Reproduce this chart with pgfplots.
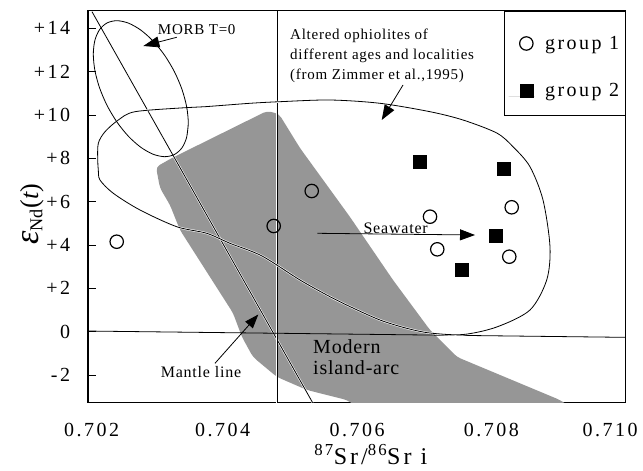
\documentclass[border=0pt]{standalone}
\usepackage{fontspec}
\setmainfont{Liberation Serif}
\newfontfamily\tickfont[LetterSpace=12.5]{Liberation Serif}
\newfontfamily\annfont[LetterSpace=5]{Liberation Serif}
\newfontfamily\arcfont[LetterSpace=4]{Liberation Serif}
\usepackage{pgfplots}
\pgfplotsset{compat=1.18}
\usetikzlibrary{arrows.meta}
\definecolor{arcgray}{RGB}{150,150,150}
\begin{document}
\begin{tikzpicture}
\useasboundingbox (0,0) rectangle (643bp,471bp);
\begin{axis}[
  at={(88.3bp,68.3bp)}, anchor=south west,
  width=537.4bp, height=392bp, scale only axis,
  xmin=0.702, xmax=0.710, ymin=-3.276, ymax=14.813,
  axis line style={line width=1.6bp},
  xtick={0.702,0.704,0.706,0.708,0.710},
  xticklabels={\makebox[0pt]{\hspace*{6.8bp}0.702},0.704,0.706,0.708,\makebox[0pt]{0.710\hspace*{31.4bp}}},
  xtick style={draw=none},
  ytick={-2,0,2,4,6,8,10,12,14},
  yticklabels={-2,0,+2,+4,+6,+8,+10,+12,+14},
  ytick pos=left, xtick pos=bottom, tick align=inside,
  major tick length=8bp,
  ytick style={line width=0.8bp, black},
  yticklabel style={font=\tickfont\fontsize{20bp}{24bp}\selectfont, inner sep=0pt, anchor=east, xshift=-18bp},
  xticklabel style={font=\tickfont\fontsize{20bp}{24bp}\selectfont, inner sep=0pt, anchor=north, yshift=-20bp},
  xlabel={\textsuperscript{87}Sr/\textsuperscript{86}Sr i},
  xlabel style={font=\tickfont\fontsize{24bp}{28bp}\selectfont, at={(rel axis cs:0.5257,-0.1334)}, anchor=center},
  ylabel={{\fontsize{34bp}{36bp}\selectfont\itshape ε}\textsubscript{Nd}(\textit{t})},
  ylabel style={font=\fontsize{26bp}{30bp}\selectfont, at={(rel axis cs:-0.1048,0.4814)}, anchor=center},
  legend style={at={(1,1)}, anchor=north east, draw=black, line width=1bp, fill=white,
    inner xsep=4bp, inner ysep=16bp, row sep=21.6bp, column sep=8.4bp,
    font=\tickfont\fontsize{20bp}{24bp}\selectfont,
    cells={anchor=base west, inner sep=0bp, text height=20bp, text depth=0bp}},
  legend image code/.code={\path[draw=none] (0bp,0bp) -- (26bp,0bp); \draw plot coordinates {(17.7bp,5.7bp)};},
]
% Modern island-arc field
\addplot[fill=arcgray, draw=none, rounded corners=4bp, forget plot] coordinates {
(0.703008,7.600) (0.703246,8.016) (0.704660,10.185) (0.704839,10.046) (0.705151,8.477)
(0.705896,5.293) (0.706536,2.386) (0.707087,0.078) (0.707489,-1.168) (0.709022,-3.152)
(0.709245,-3.613) (0.706074,-3.613) (0.705851,-3.152) (0.705256,-2.690) (0.704809,-2.090)
(0.704452,-1.168) (0.704288,-0.245) (0.704154,0.863) (0.703365,4.693) (0.703216,5.847)
(0.703067,6.631)} -- cycle;
% reference lines
\addplot[white, line width=2bp, forget plot] coordinates {(0.702055,14.767) (0.705340,-3.276)};
\addplot[black, line width=0.8bp, forget plot] coordinates {(0.702055,14.767) (0.705340,-3.276)};
\addplot[white, line width=2bp, forget plot] coordinates {(0.70481,-3.276) (0.70481,14.813)};
\addplot[black, line width=0.8bp, forget plot] coordinates {(0.70481,-3.276) (0.70481,14.813)};
\addplot[black, line width=0.8bp, forget plot] coordinates {(0.702,0.03) (0.710,-0.26)};
% altered ophiolites field
\addplot[white, line width=2bp, smooth, tension=0.5, forget plot] coordinates {
(0.702149,7.462) (0.702140,7.923) (0.702149,8.694) (0.702249,9.229) (0.702447,9.769)
(0.702695,10.152) (0.703440,10.337) (0.703737,10.383) (0.704407,10.540) (0.704854,10.614)
(0.705598,10.692) (0.706342,10.540) (0.707087,10.152) (0.707578,9.769) (0.708080,9.169)
(0.708322,8.537) (0.708575,7.614) (0.708769,6.078) (0.708873,3.922) (0.708824,2.386)
(0.708575,1.001) (0.708080,0.217) (0.707578,-0.13) (0.707087,-0.06) (0.706740,0.157)
(0.706342,0.540) (0.705940,1.094) (0.705598,1.615) (0.705151,2.386) (0.704586,3.493)
(0.704109,4.079) (0.703763,4.541) (0.703316,4.845) (0.702770,5.616) (0.702372,6.387)
(0.702174,7.000) (0.702149,7.462) (0.702140,7.923)};
\addplot[black, line width=0.8bp, smooth, tension=0.5, forget plot] coordinates {
(0.702149,7.462) (0.702140,7.923) (0.702149,8.694) (0.702249,9.229) (0.702447,9.769)
(0.702695,10.152) (0.703440,10.337) (0.703737,10.383) (0.704407,10.540) (0.704854,10.614)
(0.705598,10.692) (0.706342,10.540) (0.707087,10.152) (0.707578,9.769) (0.708080,9.169)
(0.708322,8.537) (0.708575,7.614) (0.708769,6.078) (0.708873,3.922) (0.708824,2.386)
(0.708575,1.001) (0.708080,0.217) (0.707578,-0.13) (0.707087,-0.06) (0.706740,0.157)
(0.706342,0.540) (0.705940,1.094) (0.705598,1.615) (0.705151,2.386) (0.704586,3.493)
(0.704109,4.079) (0.703763,4.541) (0.703316,4.845) (0.702770,5.616) (0.702372,6.387)
(0.702174,7.000) (0.702149,7.462) (0.702140,7.923)};
% MORB ellipse
\addplot[black, line width=0.8bp, smooth, forget plot] coordinates {
(0.7034887,9.622) (0.7034645,8.976) (0.703394,8.483) (0.7032816,8.176) (0.7031351,8.076)
(0.7029645,8.190) (0.7027815,8.510) (0.7025986,9.014) (0.702428,9.668) (0.7022815,10.427)
(0.7021691,11.241) (0.7020985,12.051) (0.7020744,12.806) (0.7020985,13.451) (0.7021691,13.945)
(0.7022815,14.252) (0.702428,14.352) (0.7025986,14.238) (0.7027815,13.918) (0.7029645,13.413)
(0.7031351,12.760) (0.7032816,12.000) (0.703394,11.187) (0.7034645,10.376) (0.7034887,9.622)
(0.7034645,8.976)};
% arrows
\addplot[black, line width=0.8bp, -{Triangle[length=15bp,width=11bp]}, forget plot] coordinates {(0.705409,4.541) (0.707757,4.462)};
\addplot[black, line width=0.8bp, -{Triangle[length=16bp,width=11bp]}, forget plot] coordinates {(0.703316,13.586) (0.702819,13.184)};
\addplot[black, line width=0.8bp, -{Triangle[length=15bp,width=11bp]}, forget plot] coordinates {(0.706685,11.384) (0.706368,9.769)};
\addplot[black, line width=0.8bp, -{Triangle[length=14bp,width=10bp]}, forget plot] coordinates {(0.703886,-1.458) (0.704531,0.794)};
% samples
\addplot[only marks, mark=o, mark size=6.7bp, line width=1.2bp, black] coordinates {
(0.702423,4.153) (0.704760,4.878) (0.705326,6.493) (0.707087,5.307) (0.707195,3.802)
(0.708303,5.741) (0.708267,3.461)};
\addlegendentry{group 1}
\addplot[only marks, mark=square*, mark size=6.5bp, line width=0.4bp, black, fill=black] coordinates {
(0.706938,7.863) (0.708178,7.540) (0.708069,4.416) (0.707559,2.847)};
\addlegendentry{group 2}
% annotations
\node[font=\annfont\fontsize{15bp}{18bp}\selectfont, inner sep=0pt] at (axis cs:0.703614,13.922) {MORB T=0};
\node[font=\annfont\fontsize{15bp}{18bp}\selectfont, inner sep=0pt, anchor=base west] at (axis cs:0.705003,13.493) {Altered ophiolites of};
\node[font=\annfont\fontsize{15bp}{18bp}\selectfont, inner sep=0pt, anchor=base west] at (axis cs:0.705003,12.570) {different ages and localities};
\node[font=\annfont\fontsize{15bp}{18bp}\selectfont, inner sep=0pt, anchor=base west] at (axis cs:0.705003,11.647) {(from Zimmer et al.,1995)};
\node[font=\annfont\fontsize{16bp}{18bp}\selectfont, inner sep=0pt, anchor=base west] at (axis cs:0.706094,4.541) {Seawater};
\node[font=\annfont\fontsize{16bp}{18bp}\selectfont, inner sep=0pt] at (axis cs:0.703678,-1.883) {Mantle line};
\node[font=\arcfont\fontsize{20bp}{24bp}\selectfont, inner sep=0pt, anchor=base west] at (axis cs:0.705345,-0.997) {Modern};
\node[font=\arcfont\fontsize{20bp}{24bp}\selectfont, inner sep=0pt, anchor=base west] at (axis cs:0.705345,-1.952) {island-arc};
\end{axis}
\end{tikzpicture}
\end{document}
